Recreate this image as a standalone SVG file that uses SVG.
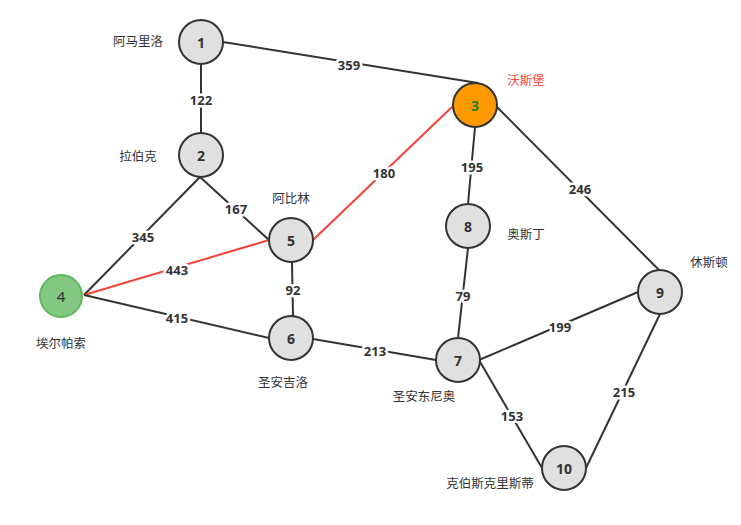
<svg xmlns="http://www.w3.org/2000/svg" width="741" height="525" viewBox="0 0 741 525">
<style>
.e{stroke:#333;stroke-width:2;fill:none}
.r{stroke:#f44336;stroke-width:2;fill:none}
.n{fill:#e0e0e0;stroke:#333;stroke-width:2}
.nt{font-family:"Noto Sans",sans-serif;font-size:14px;font-weight:bold;fill:#333;text-anchor:middle;dominant-baseline:central}
.lb{font-family:"Noto Sans CJK SC",sans-serif;font-size:12.5px;fill:#333;text-anchor:middle;dominant-baseline:central}
.w{font-family:"Noto Sans",sans-serif;font-size:13px;font-weight:bold;fill:#333;text-anchor:middle;dominant-baseline:central;paint-order:stroke;stroke:#fff;stroke-width:5px;stroke-linejoin:round}
</style>
<rect width="741" height="525" fill="#fff"/>
<g id="connectors">
<line class="e" x1="201" y1="64" x2="201" y2="133"/>
<line class="e" x1="223" y1="42" x2="478" y2="83"/>
<line class="e" x1="200" y1="177" x2="84" y2="295"/>
<line class="e" x1="200" y1="177" x2="269" y2="240"/>
<line class="r" x1="84" y1="295" x2="269" y2="240"/>
<line class="e" x1="84" y1="295" x2="269" y2="338"/>
<line class="r" x1="313" y1="240" x2="453" y2="106"/>
<line class="e" x1="292" y1="262" x2="293" y2="316"/>
<line class="e" x1="475" y1="127" x2="468" y2="204"/>
<line class="e" x1="497" y1="107" x2="659" y2="270"/>
<line class="e" x1="313" y1="339" x2="436" y2="360"/>
<line class="e" x1="468" y1="248" x2="458" y2="338"/>
<line class="e" x1="479" y1="360" x2="638" y2="292"/>
<line class="e" x1="479" y1="360" x2="542" y2="468"/>
<line class="e" x1="660" y1="314" x2="586" y2="468"/>
<text class="w" x="201" y="100">122</text>
<text class="w" x="349" y="65">359</text>
<text class="w" x="384" y="173">180</text>
<text class="w" x="472" y="167">195</text>
<text class="w" x="580" y="189">246</text>
<text class="w" x="143" y="237">345</text>
<text class="w" x="236" y="209">167</text>
<text class="w" x="177" y="270">443</text>
<text class="w" x="293" y="290">92</text>
<text class="w" x="177" y="318">415</text>
<text class="w" x="463" y="296">79</text>
<text class="w" x="375" y="351">213</text>
<text class="w" x="560" y="327">199</text>
<text class="w" x="512" y="416">153</text>
<text class="w" x="624" y="392">215</text>
</g>
<g id="n1"><circle class="n" cx="201" cy="42" r="22"/><text class="nt" x="201" y="42">1</text><text class="lb" x="138" y="40">阿马里洛</text></g>
<g id="n2"><circle class="n" cx="201" cy="155" r="22"/><text class="nt" x="201" y="155">2</text><text class="lb" x="138" y="155">拉伯克</text></g>
<g id="n3"><circle cx="475" cy="105" r="22" fill="#ff9900" stroke="#333" stroke-width="2"/><text class="nt" x="475" y="105" style="fill:#1a7a1a">3</text><text class="lb" x="526" y="79" style="fill:#f44336">沃斯堡</text></g>
<g id="n4"><circle cx="61" cy="296" r="21" fill="#82c882" stroke="#5cb85c" stroke-width="2"/><text class="nt" x="61" y="296" style="font-weight:normal;font-size:15px">4</text><text class="lb" x="61" y="342">埃尔帕索</text></g>
<g id="n5"><circle class="n" cx="291" cy="240" r="22"/><text class="nt" x="291" y="240">5</text><text class="lb" x="291" y="197">阿比林</text></g>
<g id="n6"><circle class="n" cx="291" cy="338" r="22"/><text class="nt" x="291" y="338">6</text><text class="lb" x="283" y="381">圣安吉洛</text></g>
<g id="n7"><circle class="n" cx="458" cy="360" r="22"/><text class="nt" x="458" y="360">7</text><text class="lb" x="424" y="395">圣安东尼奥</text></g>
<g id="n8"><circle class="n" cx="468" cy="226" r="22"/><text class="nt" x="468" y="226">8</text><text class="lb" x="526" y="233">奥斯丁</text></g>
<g id="n9"><circle class="n" cx="660" cy="292" r="22"/><text class="nt" x="660" y="292">9</text><text class="lb" x="709" y="261">休斯顿</text></g>
<g id="n10"><circle class="n" cx="564" cy="468" r="22"/><text class="nt" x="564" y="468">10</text><text class="lb" x="490" y="482">克伯斯克里斯蒂</text></g>
</svg>
